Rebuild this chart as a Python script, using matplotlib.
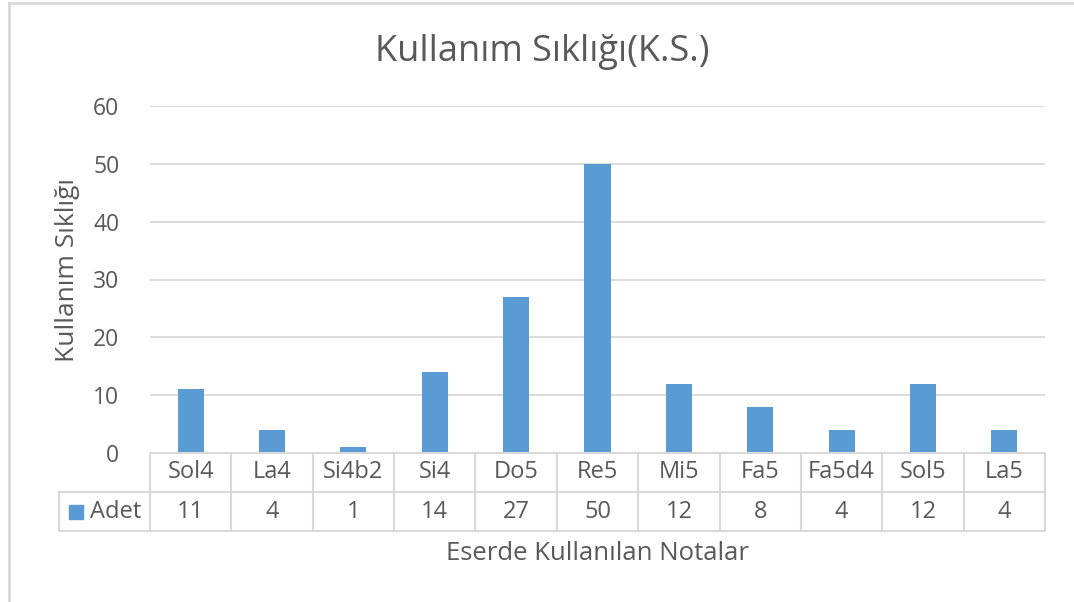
import matplotlib.pyplot as plt
from matplotlib.lines import Line2D

# Veriler
notalar = ['Sol4', 'La4', 'Si4b2', 'Si4', 'Do5', 'Re5', 'Mi5', 'Fa5', 'Fa5d4', 'Sol5', 'La5']
adet = [11, 4, 1, 14, 27, 50, 12, 8, 4, 12, 4]
yticks = [0, 10, 20, 30, 40, 50, 60]

plt.rcParams['font.family'] = ['Open Sans', 'DejaVu Sans']
gri = '#595959'
cizgi = '#D9D9D9'
mavi = '#5B9BD5'

W, H = 1074, 602
fig = plt.figure(figsize=(W / 100, H / 100), dpi=100)
ax = fig.add_axes([150 / W, 1 - 453 / H, 895 / W, 347 / H])

x = list(range(len(notalar)))
ax.bar(x, adet, width=0.32, color=mavi, zorder=3)
ax.set_xlim(-0.5, len(notalar) - 0.5)
ax.set_ylim(0, 60)
ax.set_yticks(yticks)
ax.set_yticklabels([str(v) for v in yticks], color=gri, fontsize=16.5)
ax.tick_params(axis='y', length=0, pad=22)
ax.set_xticks([])
ax.grid(axis='y', color=cizgi, linewidth=1.3, zorder=0)
for s in ax.spines.values():
    s.set_visible(False)

# Veri tablosu
tr = ax.get_xaxis_transform()
h = 39 / 347  # satır yüksekliği (eksen oranı)
kat = 895 / len(notalar)  # bir kategorinin piksel genişliği
sol = -0.5 - 91 / kat  # lejant hücresinin sol kenarı (veri birimi)
sag = len(notalar) - 0.5
kw = dict(color=cizgi, linewidth=1.5, transform=tr, clip_on=False, zorder=4)
ax.plot([-0.5, sag], [0, 0], **kw)
ax.plot([sol, sag], [-h, -h], **kw)
ax.plot([sol, sag], [-2 * h, -2 * h], **kw)
for i in range(len(notalar) + 1):
    ax.plot([i - 0.5, i - 0.5], [0, -2 * h], **kw)
ax.plot([sol, sol], [-h, -2 * h], **kw)

for i, (n, v) in enumerate(zip(notalar, adet)):
    ax.text(i, -h / 2, n, transform=tr, ha='center', va='center', color=gri, fontsize=17)
    ax.text(i, -1.5 * h, str(v), transform=tr, ha='center', va='center', color=gri, fontsize=17)

ax.plot([sol + 16.5 / kat], [-1.5 * h], marker='s', markersize=9.5, color=mavi,
        transform=tr, clip_on=False, linestyle='none')
ax.text(sol + 31 / kat, -1.5 * h, 'Adet', transform=tr, ha='left', va='center', color=gri, fontsize=17)

# Başlıklar
fig.text(0.505, 1 - 52 / H, 'Kullanım Sıklığı(K.S.)', ha='center', va='center', color=gri, fontsize=26)
fig.text(68 / W, 1 - 270 / H, 'Kullanım Sıklığı', ha='center', va='center', rotation=90,
         color=gri, fontsize=19)
fig.text(597 / W, 1 - 553 / H, 'Eserde Kullanılan Notalar', ha='center', va='center',
         color=gri, fontsize=18.5)

# Grafik çerçevesi
fig.add_artist(Line2D([9 / W, 1], [1 - 3 / H, 1 - 3 / H], color=cizgi, linewidth=2))
fig.add_artist(Line2D([9 / W, 9 / W], [0, 1 - 3 / H], color=cizgi, linewidth=2))

fig.savefig('out.png', dpi=100)
